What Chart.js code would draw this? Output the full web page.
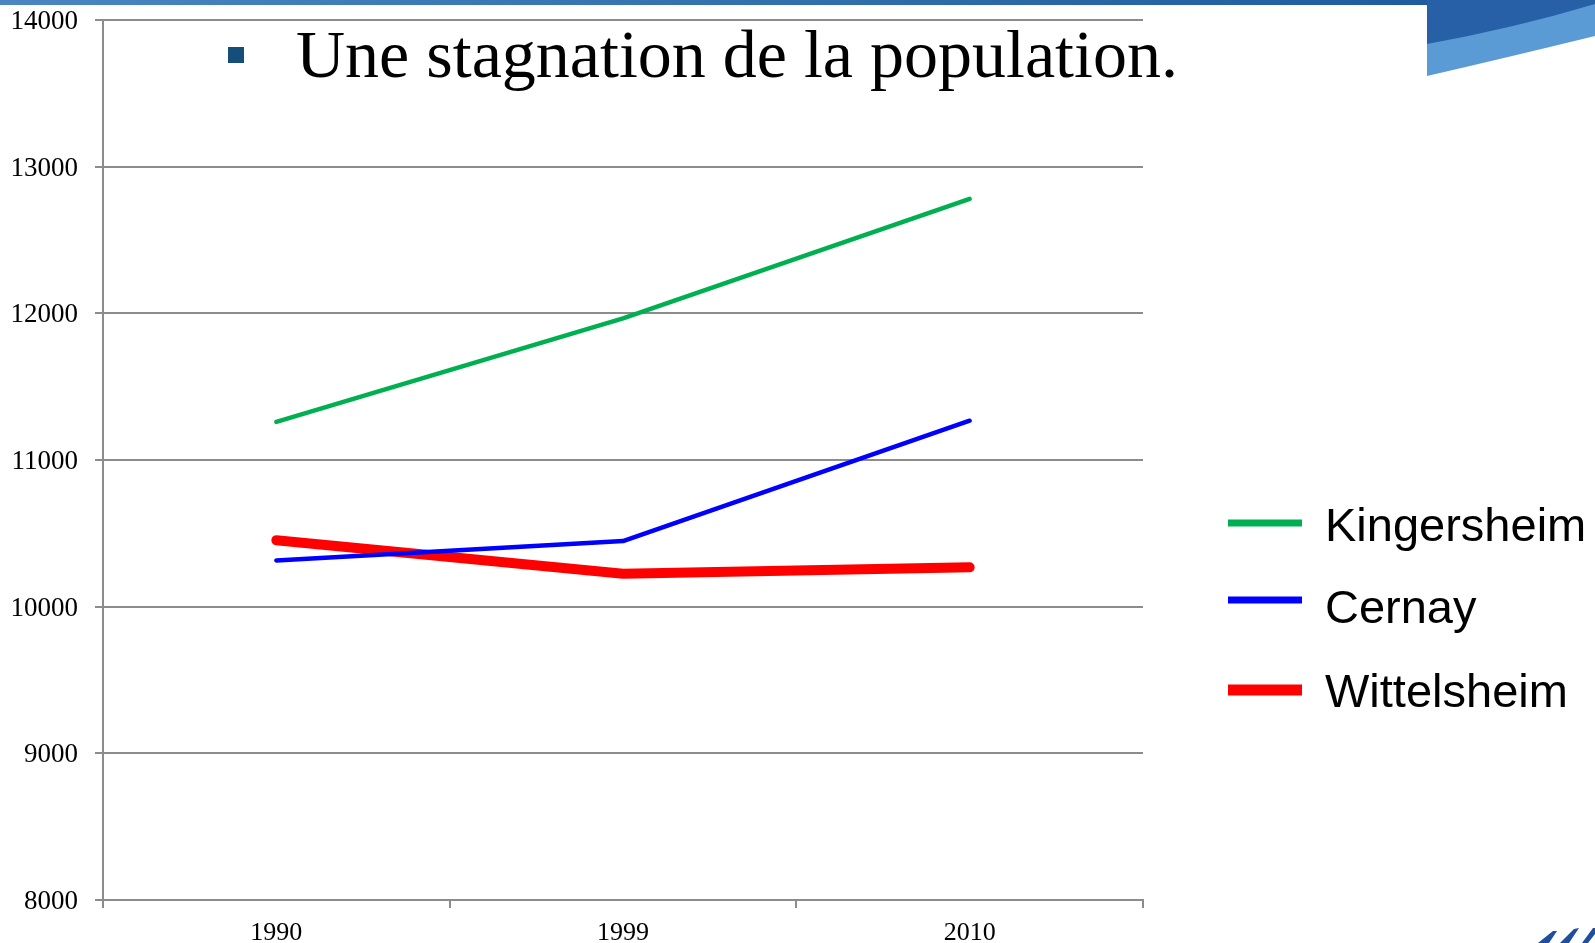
<!DOCTYPE html>
<html><head><meta charset="utf-8">
<script src="https://cdn.jsdelivr.net/npm/chart.js@4.4.1/dist/chart.umd.min.js"></script>
<style>
html,body{margin:0;padding:0;background:#fff;overflow:hidden}
#wrap{position:relative;width:1595px;height:943px}
canvas{position:absolute;left:0;top:0}
#title{position:absolute;left:296px;top:20px;font-family:"Liberation Serif",serif;font-size:68px;line-height:68px;color:#000;white-space:nowrap;margin:0}
#bullet{position:absolute;left:228px;top:47px;width:16px;height:16px;background:#134F7A}
</style></head><body>
<div id="wrap"><canvas id="c" width="1595" height="943"></canvas>
<div id="bullet"></div><div id="title">Une stagnation de la population.</div></div>
<script>
// ---- data ----
const years = ['1990', '1999', '2010'];
const kingersheim = [11260, 11965, 12780];
const cernay = [10315, 10447, 11268];
const wittelsheim = [10453, 10225, 10268];
const yTickValues = [8000, 9000, 10000, 11000, 12000, 13000, 14000];
const seriesNames = ['Kingersheim', 'Cernay', 'Wittelsheim'];

const GRID = '#8c8c8c';

const bgPlugin = {
  id: 'bg',
  beforeDraw(chart) {
    const ctx = chart.ctx;
    ctx.save();
    ctx.fillStyle = '#fff';
    ctx.fillRect(0, 0, chart.width, chart.height);
    const g = ctx.createLinearGradient(0, 0, 1427, 0);
    g.addColorStop(0, '#4a86c0');
    g.addColorStop(1, '#1f5c9e');
    ctx.fillStyle = g;
    ctx.fillRect(0, 0, 1427, 5);
    // light swoosh band
    ctx.fillStyle = '#5b9bd5';
    ctx.beginPath();
    ctx.moveTo(1427, 0); ctx.lineTo(1595, 0); ctx.lineTo(1595, 36);
    ctx.quadraticCurveTo(1505, 58, 1427, 76);
    ctx.closePath(); ctx.fill();
    // dark swoosh band
    ctx.fillStyle = '#2760a6';
    ctx.beginPath();
    ctx.moveTo(1427, 0); ctx.lineTo(1595, 0); ctx.lineTo(1595, 4);
    ctx.quadraticCurveTo(1515, 28, 1427, 44);
    ctx.closePath(); ctx.fill();
    // bottom-right marks
    ctx.fillStyle = '#1f4f9c';
    ctx.beginPath();
    ctx.moveTo(1538, 943); ctx.lineTo(1553, 931); ctx.lineTo(1557, 931); ctx.lineTo(1549, 943);
    ctx.closePath(); ctx.fill();
    ctx.beginPath();
    ctx.moveTo(1560, 943); ctx.lineTo(1574, 929); ctx.lineTo(1579, 928); ctx.lineTo(1569, 943);
    ctx.closePath(); ctx.fill();
    ctx.beginPath();
    ctx.moveTo(1582, 943); ctx.lineTo(1593, 928); ctx.lineTo(1595, 928); ctx.lineTo(1595, 934); ctx.lineTo(1588, 943);
    ctx.closePath(); ctx.fill();
    ctx.restore();
  }
};

const legendPlugin = {
  id: 'sideLegend',
  afterDraw(chart) {
    const ctx = chart.ctx;
    const rows = [
      { lineY: 523, textY: 541, w: 7 },
      { lineY: 600, textY: 623, w: 7 },
      { lineY: 690, textY: 707, w: 11 }
    ];
    ctx.save();
    ctx.font = '47px "Liberation Sans", Arial, sans-serif';
    ctx.textBaseline = 'alphabetic';
    ctx.textAlign = 'left';
    chart.data.datasets.forEach((ds, i) => {
      const r = rows[i];
      ctx.strokeStyle = ds.borderColor;
      ctx.lineWidth = r.w;
      ctx.lineCap = 'butt';
      ctx.beginPath();
      ctx.moveTo(1228, r.lineY);
      ctx.lineTo(1302, r.lineY);
      ctx.stroke();
      ctx.fillStyle = '#000';
      ctx.fillText(ds.label, 1325, r.textY);
    });
    ctx.restore();
  }
};

new Chart(document.getElementById('c'), {
  type: 'line',
  data: {
    labels: years,
    datasets: [
      { label: seriesNames[0], data: kingersheim, borderColor: '#00B050', borderWidth: 4.5 },
      { label: seriesNames[1], data: cernay, borderColor: '#0000FF', borderWidth: 4.5 },
      { label: seriesNames[2], data: wittelsheim, borderColor: '#FF0000', borderWidth: 10 }
    ]
  },
  options: {
    responsive: false,
    animation: false,
    devicePixelRatio: 1,
    layout: { padding: { top: 20, right: 452, left: 0, bottom: 0 } },
    elements: {
      line: { tension: 0, borderCapStyle: 'round', borderJoinStyle: 'round', fill: false },
      point: { radius: 0, hoverRadius: 0 }
    },
    plugins: { legend: { display: false }, title: { display: false }, tooltip: { enabled: false } },
    scales: {
      x: {
        offset: true,
        afterFit: s => { s.height = 43; s.paddingLeft = 0; s.paddingRight = 0; },
        grid: { offset: true, drawOnChartArea: false, drawTicks: true, tickLength: 8, color: GRID, lineWidth: 2 },
        border: { display: true, color: GRID, width: 2 },
        ticks: { color: '#000', font: { family: '"Liberation Serif", serif', size: 26 }, padding: 10, maxRotation: 0 }
      },
      y: {
        min: 8000, max: 14000,
        afterFit: s => { s.width = 103; s.paddingTop = 0; s.paddingBottom = 0; },
        afterBuildTicks: s => { s.ticks = yTickValues.map(v => ({ value: v })); },
        grid: { color: GRID, lineWidth: 2, tickLength: 8, drawTicks: true },
        border: { display: true, color: GRID, width: 2 },
        ticks: { color: '#000', font: { family: '"Liberation Serif", serif', size: 27 }, padding: 17, labelOffset: 2,
                 callback: v => String(v) }
      }
    }
  },
  plugins: [bgPlugin, legendPlugin]
});
</script>
</body></html>
